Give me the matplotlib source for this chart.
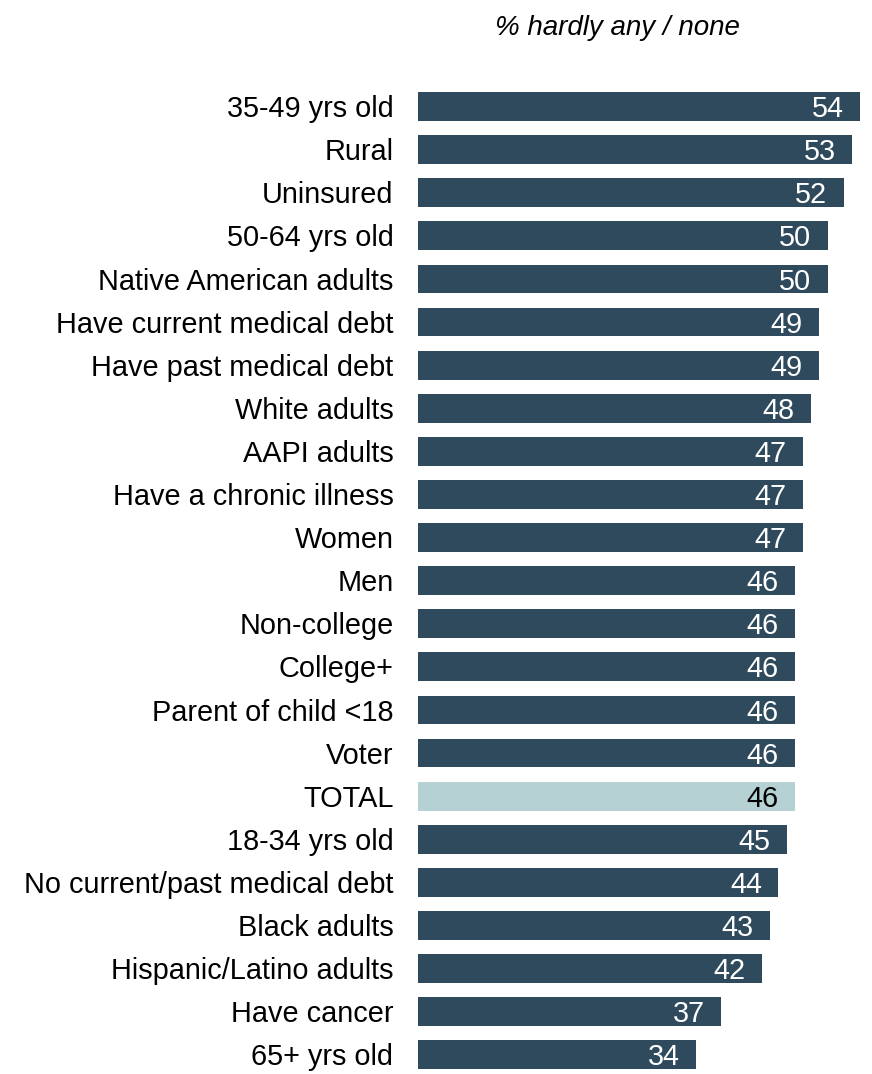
import matplotlib
matplotlib.use("Agg")
import matplotlib.pyplot as plt

plt.rcParams['font.family'] = ['Liberation Sans', 'DejaVu Sans']

categories = [
    "35-49 yrs old", "Rural", "Uninsured", "50-64 yrs old", "Native American adults",
    "Have current medical debt", "Have past medical debt", "White adults", "AAPI adults",
    "Have a chronic illness", "Women", "Men", "Non-college", "College+",
    "Parent of child <18", "Voter", "TOTAL", "18-34 yrs old",
    "No current/past medical debt", "Black adults", "Hispanic/Latino adults",
    "Have cancer", "65+ yrs old",
]
values = [54, 53, 52, 50, 50, 49, 49, 48, 47, 47, 47, 46, 46, 46, 46, 46, 46, 45, 44, 43, 42, 37, 34]
highlight = "TOTAL"

W, H = 872, 1074
fig = plt.figure(figsize=(W / 100, H / 100), dpi=100)

px_per_unit = 8.19
left_px, right_px = 418, W
top_px, bottom_px = 85, H
row_px = 43.1
ax = fig.add_axes([left_px / W, 1 - bottom_px / H, (right_px - left_px) / W, (bottom_px - top_px) / H])

n = len(categories)
ys = list(range(n))
dark = "#2E4A5C"
light = "#B5D1D4"
colors = [light if c == highlight else dark for c in categories]
ax.barh(ys, values, height=0.67, color=colors, edgecolor="none")

ax.set_xlim(0, (right_px - left_px) / px_per_unit)
ax.set_ylim(-0.5 + (bottom_px - top_px) / row_px, -0.5)
ax.axis("off")

fs = 20.8
for y, v, c in zip(ys, values, categories):
    ax.text(v - 2.0, y + 0.06, f"{v}", ha="right", va="center", fontsize=fs,
            color="black" if c == highlight else "white")
    ax.text(-3.0, y + 0.06, c, ha="right", va="center", fontsize=fs, color="black",
            clip_on=False)

fig.text(617 / W, 1 - 28 / H, "% hardly any / none", ha="center", va="center",
         fontsize=20, style="italic", color="black")

fig.savefig("out.png", dpi=100, facecolor="white")
